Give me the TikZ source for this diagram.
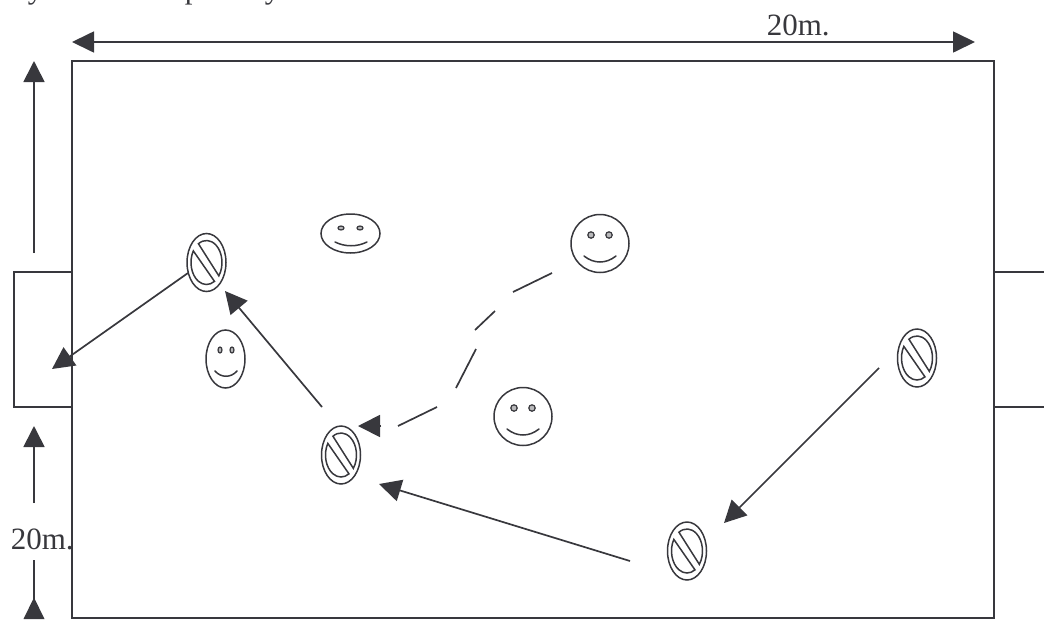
\documentclass[tikz,border=0pt]{standalone}
\usepackage{fontspec}
\setmainfont{Liberation Serif}
\usetikzlibrary{arrows.meta,shapes.geometric}
\definecolor{ink}{HTML}{38383D}
\tikzset{
  x=1pt,y=1pt,
  lbl/.style={inner sep=0pt,anchor=base west,font=\fontsize{31}{31}\selectfont,text=ink},
  oval/.style={draw=ink,shape=ellipse,inner sep=0pt,outer sep=0pt,line width=1.5pt},
  nosign/.style={oval,minimum width=39pt,minimum height=58pt},
  facewide/.style={oval,minimum width=59pt,minimum height=39pt},
  facetall/.style={oval,minimum width=39pt,minimum height=58pt},
  faceround/.style={oval,minimum width=58pt,minimum height=58pt},
  eye/.style={draw=ink,fill=ink!35,line width=1.2pt},
  feat/.style={line width=1.5pt,draw=ink,line cap=round},
  mv/.style={-{Triangle[length=22pt,width=22pt]},line width=1.7pt,draw=ink,fill=ink},
  seg/.style={line width=1.7pt,draw=ink}
}
\newcommand{\inneroval}[1]{%
  \draw[feat] (#1) ++(-37.3:15.5pt and 22pt) arc[start angle=-37.3,end angle=121.4,x radius=15.5pt,y radius=22pt] -- cycle;
  \draw[feat] (#1) ++(148.2:15.5pt and 22pt) arc[start angle=148.2,end angle=301,x radius=15.5pt,y radius=22pt] -- cycle;
}
\begin{document}
\begin{tikzpicture}[line width=1.7pt,color=ink]
\useasboundingbox (0,0) rectangle (1044,-619);
% cut-off text line at the top
\begin{scope}
\clip (0,0) rectangle (1044,-619);
\node[lbl] (capa) at (27,1.5) {y};
\node[lbl] (capb) at (184,1.5) {p};
\node[lbl] (capc) at (264,1.5) {y};
\end{scope}
% pitch and goals
\draw[line cap=rect] (72,-61) rectangle (994,-618);
\draw (72,-272) -- (14,-272) -- (14,-407) -- (72,-407);
\draw (1044,-272) -- (994,-272);
\draw (1044,-407) -- (994,-407);
% labels
\node[lbl] (ltop) at (766,-35) {20m.};
\node[lbl] (lleft) at (10,-549.5) {20m.};
% dimension arrows
\coordinate (tl) at (72,-42);
\coordinate (tr) at (975,-42);
\draw[{Triangle[length=22pt,width=21pt]}-{Triangle[length=22pt,width=21pt]},fill=ink] (tl) -- (tr);
\coordinate (u1a) at (34,-253);
\coordinate (u1b) at (34,-61);
\draw[-{Triangle[length=21pt,width=21pt]},fill=ink] (u1a) -- (u1b);
\coordinate (u2a) at (34,-503);
\coordinate (u2b) at (34,-426);
\draw[-{Triangle[length=21pt,width=21pt]},fill=ink] (u2a) -- (u2b);
\coordinate (u3a) at (34,-560);
\coordinate (u3b) at (34,-599);
\draw (u3a) -- (u3b);
\fill[ink,draw=none] (34,-597.5) -- (44.5,-619) -- (23.5,-619) -- cycle;
% players without ball
\node[facewide] (f1) at (350.5,-233.5) {};
\filldraw[eye] (341,-228) ellipse (3pt and 2pt);
\filldraw[eye] (360,-228) ellipse (3pt and 2pt);
\draw[feat] (335,-242) .. controls (345,-247) and (357,-247) .. (367,-242);
\node[facetall] (f2) at (225.5,-359) {};
\filldraw[eye] (220,-350) ellipse (2pt and 3pt);
\filldraw[eye] (232,-350) ellipse (2pt and 3pt);
\draw[feat] (215,-371) .. controls (221,-378) and (231,-378) .. (237,-371);
\node[faceround] (f3) at (600,-243.5) {};
\filldraw[eye] (591,-235) circle (3.2pt);
\filldraw[eye] (609,-235) circle (3.2pt);
\draw[feat] (584,-256) .. controls (594,-264) and (606,-264) .. (616,-256);
\node[faceround] (f4) at (523,-416.5) {};
\filldraw[eye] (514,-408) circle (3.2pt);
\filldraw[eye] (532,-408) circle (3.2pt);
\draw[feat] (507,-429) .. controls (517,-437) and (529,-437) .. (539,-429);
% no-signs
\node[nosign] (s1) at (206.5,-262.5) {};
\inneroval{s1.center}
\node[nosign] (s2) at (341,-455) {};
\inneroval{s2.center}
\node[nosign] (s3) at (917,-358) {};
\inneroval{s3.center}
\node[nosign] (s4) at (687,-551) {};
\inneroval{s4.center}
% moves
\coordinate (a1s) at (188,-273);
\coordinate (a1e) at (52,-369);
\draw[mv] (a1s) -- (a1e);
\coordinate (a2s) at (322,-407);
\coordinate (a2e) at (225,-291);
\draw[mv] (a2s) -- (a2e);
\coordinate (a3s) at (630,-561);
\coordinate (a3e) at (379,-484);
\draw[mv] (a3s) -- (a3e);
\coordinate (a4s) at (879,-368);
\coordinate (a4e) at (724,-523);
\draw[mv] (a4s) -- (a4e);
% dashed run
\coordinate (d1) at (552,-273);
\coordinate (d2) at (513,-292);
\coordinate (d3) at (495,-311);
\coordinate (d4) at (475,-330);
\coordinate (d5) at (476,-349);
\coordinate (d6) at (456,-388);
\coordinate (d7) at (437,-407);
\coordinate (d8) at (398,-426);
\coordinate (d9) at (381,-426);
\coordinate (d10) at (358,-426);
\draw[seg] (d1) -- (d2);
\draw[seg] (d3) -- (d4);
\draw[seg] (d5) -- (d6);
\draw[seg] (d7) -- (d8);
\draw[mv] (d9) -- (d10);
\end{tikzpicture}
\end{document}
